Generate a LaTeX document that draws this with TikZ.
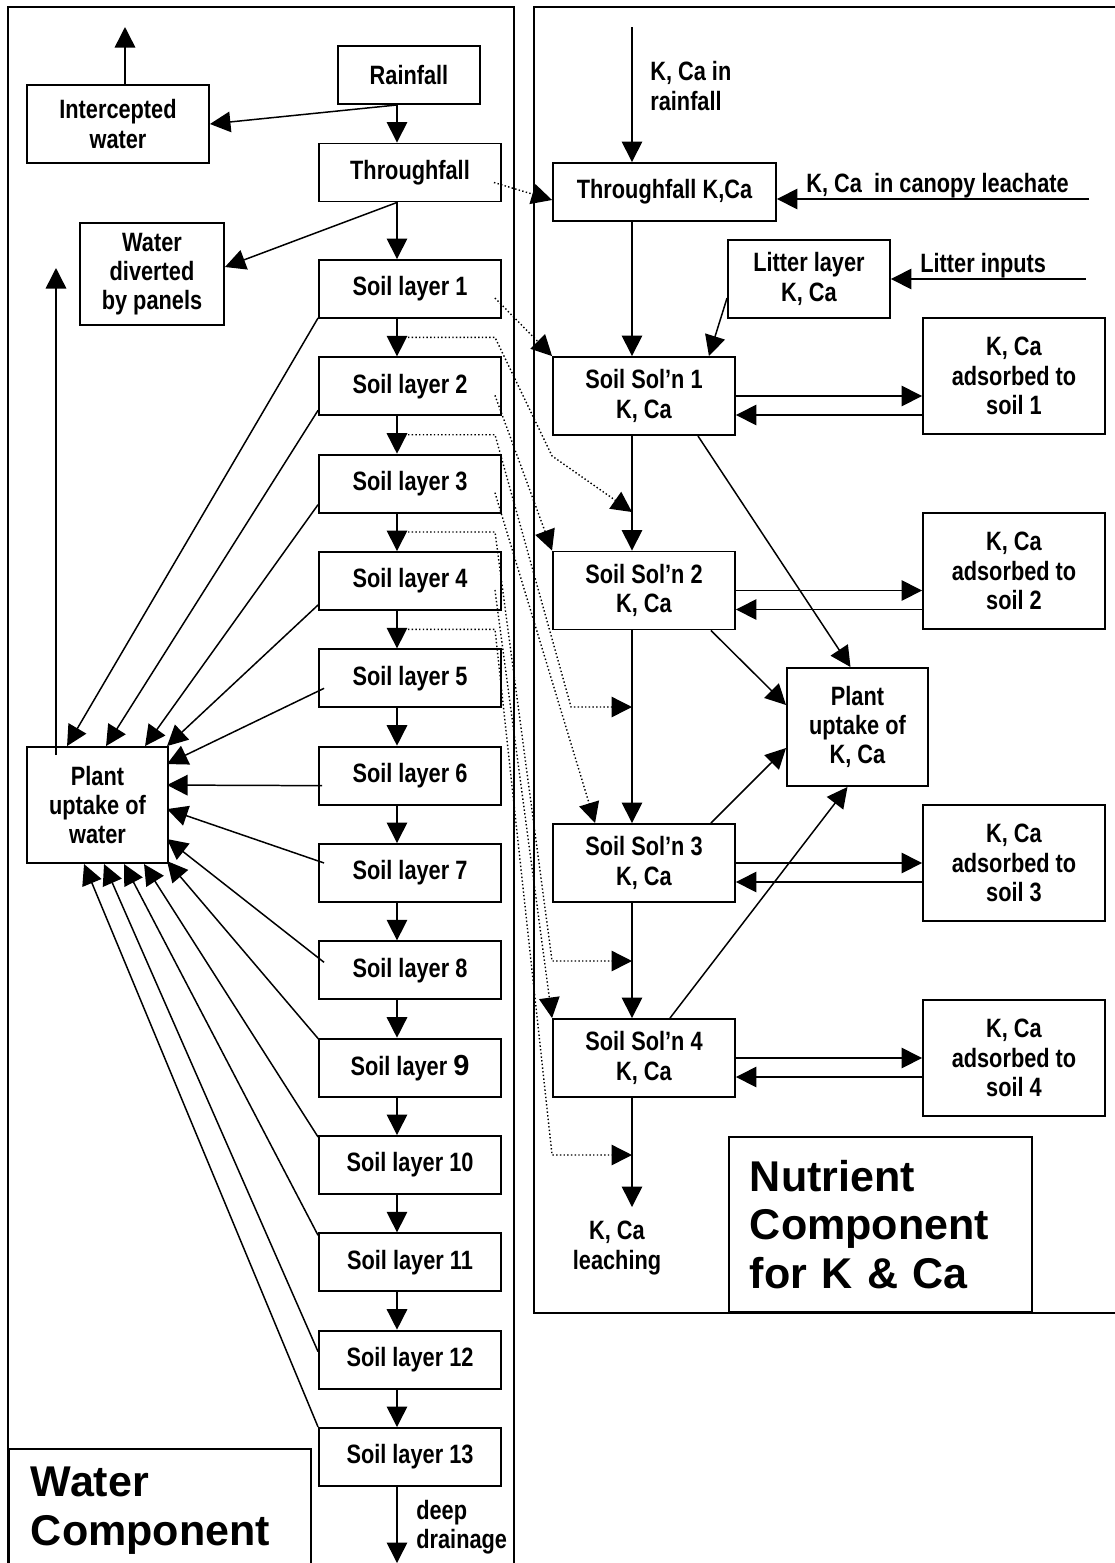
\documentclass[tikz,border=0pt]{standalone}
\usepackage{fontspec}
\setmainfont{Liberation Sans}
\newfontfamily\narrowfont{Liberation Sans}[FakeStretch=0.82]
\usetikzlibrary{arrows.meta,calc,positioning}
\newcommand\boxfont{\narrowfont\bfseries\fontsize{15.1}{16.6}\selectfont}
\newcommand\bigfont{\rmfamily\bfseries\fontsize{24.5}{27.6}\selectfont}

\begin{document}
\begin{tikzpicture}[
        x=0.02cm, y=-0.02cm,
        compart/.style={
            draw,
            line width=1.1pt,
            inner sep=0pt,
            align=center,
            font=\boxfont
        },
        soilbox/.style={compart, minimum width=3.64cm, minimum height=1.16cm},
        solbox/.style={compart, minimum width=3.64cm, minimum height=1.56cm},
        adsbox/.style={compart, minimum width=3.64cm, minimum height=2.32cm},
        txt/.style={inner sep=0pt, align=left, font=\boxfont},
        bigbox/.style={draw, line width=1.1pt, anchor=north west, align=left, font=\bigfont},
        frame/.style={line width=1.2pt},
        arrow/.style={-{Triangle[length=0.41cm, width=0.41cm]}, line width=0.85pt},
        dotarrow/.style={arrow, line width=0.8pt, dash pattern=on 0.8pt off 1.3pt}
    ]
    \path[use as bounding box] (0,0) rectangle (1115,1563);
    \clip (0,0) rectangle (1115,1563);

    % the two components
    \draw[frame] (8,7) rectangle (514,1620);
    \draw[frame] (534,7) rectangle (1140,1313);
    \coordinate (wcol) at (397,0);
    \coordinate (ncol) at (632,0);

    % water component
    \node[compart, minimum width=2.84cm, minimum height=1.16cm] (rain) at (409,75) {Rainfall};
    \node[compart, minimum width=3.64cm, minimum height=1.56cm] (interc) at (118,124) {Intercepted\\water};
    \node[soilbox] (thru) at (410,172.5) {Throughfall};
    \node[compart, minimum width=2.88cm, minimum height=2.04cm] (divert) at (152,274) {Water\\diverted\\by panels};
    \node[compart, minimum width=2.82cm, minimum height=2.32cm] (plantw) at (97.5,805) {Plant\\uptake of\\water};
    \foreach \i in {1,...,13}
        \node[soilbox] (soil\i) at (410,{289+97.33*(\i-1)})
            {Soil layer \ifnum\i=9 {\rmfamily\fontsize{16.5}{16.5}\selectfont 9}\else\i\fi};
    \node[bigbox, inner xsep=0.44cm, inner ysep=0.36cm, text width=5.16cm] (waterlbl) at (8,1448) {Water\\Component};

    \coordinate (evapI) at (125,27);
    \coordinate (evapP) at (56,268);
    \coordinate (drain) at (397,1563);

    \draw[arrow] (interc.north -| evapI) -- (evapI);
    \draw[arrow] (rain.south -| wcol) -- (interc.east);
    \draw[arrow] (rain.south -| wcol) -- (thru.north -| wcol);
    \draw[arrow] (thru.south -| wcol) -- ($(divert.east)+(0,-7)$);
    \draw[arrow] (thru.south -| wcol) -- (soil1.north -| wcol);
    \foreach \i [count=\j from 2] in {1,...,12}
        \draw[arrow] (soil\i.south -| wcol) -- (soil\j.north -| wcol);
    \draw[arrow] (soil13.south -| wcol) -- (drain);
    \node[txt, anchor=west] (drainlbl) at (416,1527) {deep\\drainage};
    \draw[arrow] ($(plantw.north -| evapP)+(0,9)$) -- (evapP);
    \foreach \k/\sx/\sy/\tx/\ty in {1/0/29/41/0, 2/0/24/80/0, 3/0/21/119/0, 4/0/24/141/0,
            5/6/10/141/18, 6/4/10/141/39, 7/6/-10/141/63, 8/6/-8/141/93, 9/1/-28/141/115,
            10/0/-28/118/118, 11/0/-27/98/118, 12/0/-8/78/118, 13/0/-30/58/118}
        \draw[arrow] ($(soil\k.west)+(\sx,\sy)$) -- ($(plantw.north west)+(\tx,\ty)$);

    % nutrient component
    \node[compart, minimum width=4.46cm, minimum height=1.16cm] (tfk) at (664.5,192) {Throughfall K,Ca};
    \node[compart, minimum width=3.24cm, minimum height=1.56cm] (litter) at (809,279) {Litter layer\\K, Ca};
    \foreach \k/\y in {1/396, 2/590.5, 3/863, 4/1058}
        \node[solbox] (sol\k) at (644,\y) {Soil Sol’n \k\\K, Ca};
    \foreach \k/\y in {1/376, 2/571, 3/863, 4/1058}
        \node[adsbox] (ads\k) at (1014,\y) {K, Ca\\adsorbed to\\soil \k};
    \node[compart, minimum width=2.82cm, minimum height=2.36cm] (plantk) at (857.5,727) {Plant\\uptake of\\K, Ca};
    \node[bigbox, inner xsep=0.42cm, inner ysep=0pt, text width=5.22cm, minimum height=3.5cm] (nutlbl) at (728,1136) {Nutrient\\Component\\for K \& Ca};

    \coordinate (kin) at (632,27);
    \coordinate (canopy) at (1089,199);
    \coordinate (litin) at (1086,279);
    \coordinate (leach) at (632,1207);
    \node[txt, anchor=west] (kinlbl) at (650,86) {K, Ca in\\rainfall};
    \node[txt, anchor=base west] (canlbl) at (806,192) {K, Ca\ \ in canopy leachate};
    \node[txt, anchor=base west] (litlbl) at (920,272) {Litter inputs};
    \node[txt, align=center] (leachlbl) at (617,1248) {K, Ca\\leaching};

    \draw[arrow] (kin) -- (tfk.north -| ncol);
    \draw[arrow] (canopy) -- (tfk.east |- canopy);
    \draw[arrow] (litin) -- (litter.east |- litin);
    \draw[arrow] ($(litter.west)+(0,19)$) -- ($(sol1.north east)+(-27,0)$);
    \draw[arrow] (tfk.south -| ncol) -- (sol1.north -| ncol);
    \foreach \k [count=\j from 2] in {1,2,3}
        \draw[arrow] (sol\k.south -| ncol) -- (sol\j.north -| ncol);
    \draw[arrow] (sol4.south -| ncol) -- (leach);
    \foreach \k in {1,...,4} {
        \draw[arrow] (sol\k.east) -- (sol\k.east -| ads\k.west);
        \draw[arrow] ($(sol\k.east -| ads\k.west)+(0,19)$) -- ($(sol\k.east)+(0,19)$);
    }
    \draw[arrow] ($(sol1.south east)+(-38,0)$) -- ($(plantk.north)+(-7,0)$);
    \draw[arrow] ($(sol2.south east)+(-25,0)$) -- ($(plantk.west)+(0,-22)$);
    \draw[arrow] ($(sol3.north east)+(-25,0)$) -- ($(plantk.west)+(0,21)$);
    \draw[arrow] ($(sol4.north)+(26,0)$) -- ($(plantk.south)+(-10,0)$);

    % water flows carrying K, Ca across
    \coordinate (tap1) at (632,512);
    \coordinate (tap2) at (632,707);
    \coordinate (tap3) at (632,961);
    \coordinate (tap4) at (632,1155);
    \draw[dotarrow] ($(thru.east)+(-8,10)$) -- ($(tfk.west)+(0,8)$);
    \foreach \k in {1,2,4}
        \draw[dotarrow] ($(soil\k.east)+(-7,9)$) -- (sol\k.north west);
    \draw[dotarrow] ($(soil3.east)+(-7,9)$) -- ($(sol3.north west)+(43,0)$);
    \draw[dotarrow] ($(soil2.north -| wcol)+(11,-19)$) -- ++(87,0) -- ($(sol1.south west)+(0,20)$) -- (tap1);
    \draw[dotarrow] ($(soil3.north -| wcol)+(11,-19)$) -- ++(87,0) -- ($(tap2 -| sol2.west)+(19,0)$) -- (tap2);
    \draw[dotarrow] ($(soil4.north -| wcol)+(11,-19)$) -- ++(87,0) -- (tap3 -| sol3.west) -- (tap3);
    \draw[dotarrow] ($(soil5.north -| wcol)+(11,-19)$) -- ++(87,0) -- (tap4 -| sol4.west) -- (tap4);

\end{tikzpicture}
\end{document}
